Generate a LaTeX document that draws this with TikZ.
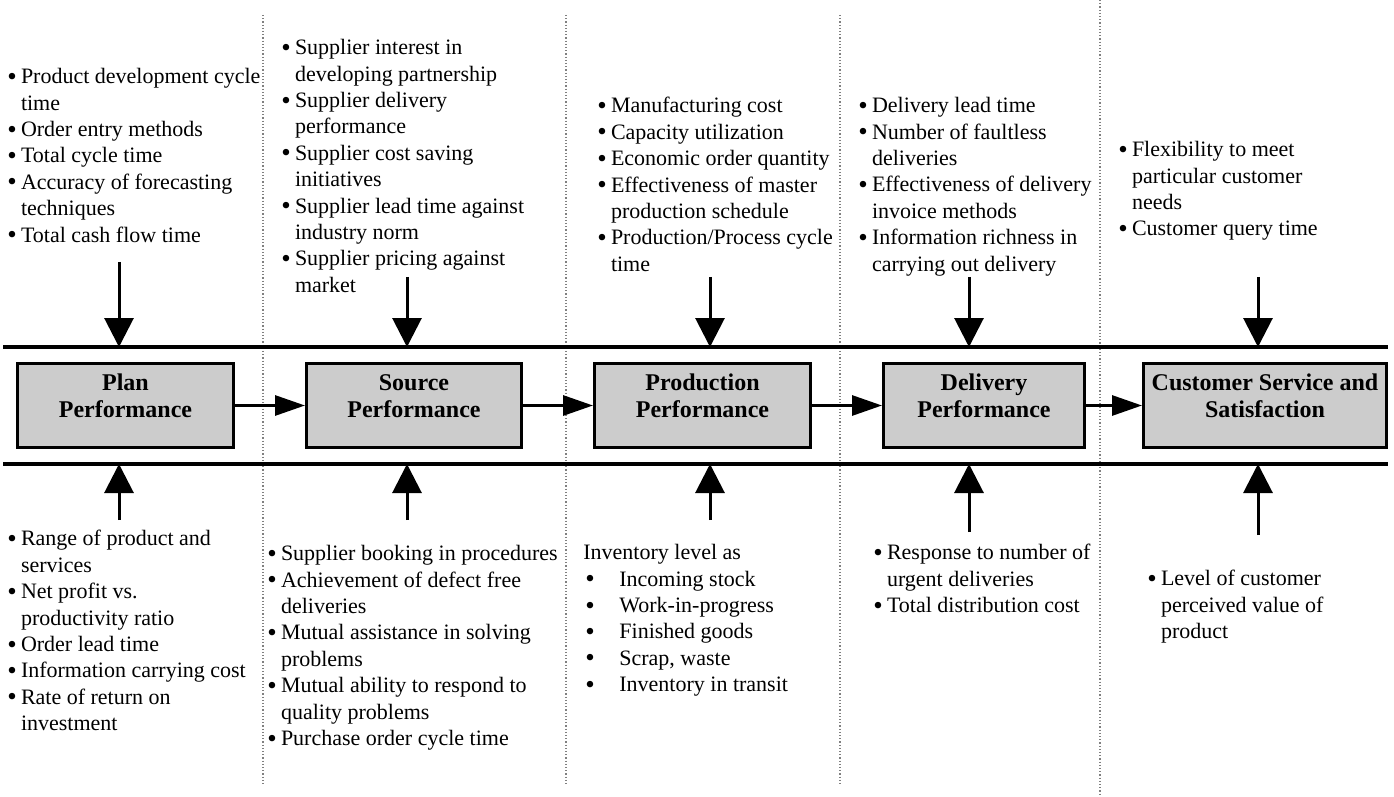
\documentclass[tikz,border=0pt]{standalone}
\usepackage{fontspec}
\setmainfont{Liberation Serif}
\usepackage{xcolor}
\usepackage{tikz}
\usetikzlibrary{positioning,arrows.meta}
\definecolor{boxgray}{RGB}{204,204,204}
\newcommand{\dotglyph}{\smash{\raisebox{-0.8pt}{\fontsize{13.5}{13.5}\selectfont\textbullet}}}
\newcommand{\blt}{\makebox[6.8pt][l]{\dotglyph}}
\newcommand{\hng}{\hspace*{6.8pt}}
\newcommand{\tbl}{\hspace*{1pt}\makebox[17pt][l]{\dotglyph}}

\begin{document}
\begin{tikzpicture}[x=0.5pt, y=-0.5pt,
  box/.style={draw, line width=1.7pt, fill=boxgray, minimum height=41.8pt, inner sep=0pt},
  boxtxt/.style={align=center, inner sep=0pt, font=\fontsize{12}{13.5}\selectfont\bfseries},
  lst/.style={anchor=north west, inner sep=0pt, align=left, font=\fontsize{11}{13.2}\selectfont},
  harr/.style={-{Triangle[length=15pt, width=10pt]}, line width=1.5pt},
  varr/.style={-{Triangle[length=14.5pt, width=14.5pt]}, line width=1.5pt},
  bar/.style={line width=2pt},
  sep/.style={densely dotted, gray, line width=0.6pt}]
\useasboundingbox (0,0) rectangle (1394,797);
\draw[sep] (263,15) -- (263,785); \draw[sep] (566,15) -- (566,785);
\draw[sep] (840,15) -- (840,785); \draw[sep] (1100,0) -- (1100,797);
\coordinate (tl) at (3,347); \coordinate (tr) at (1388,347);
\coordinate (bl) at (3,464); \coordinate (br) at (1388,464);
\draw[bar] (tl) -- (tr); \draw[bar] (bl) -- (br);
\node[box, minimum width=107.8pt] (plan) at (125.5,405.5) {};
\node[box, minimum width=107.3pt] (src) at (414,405.5) {};
\node[box, minimum width=107.8pt] (prod) at (702.5,405.5) {};
\node[box, minimum width=100.3pt] (del) at (984,405.5) {};
\node[box, minimum width=121.3pt] (cust) at (1265,405.5) {};
\node[boxtxt] (plant) at ([yshift=4.75pt]plan.center) {Plan\\Performance};
\node[boxtxt] (srct) at ([yshift=4.75pt]src.center) {Source\\Performance};
\node[boxtxt] (prodt) at ([yshift=4.75pt]prod.center) {Production\\Performance};
\node[boxtxt] (delt) at ([yshift=4.75pt]del.center) {Delivery\\Performance};
\node[boxtxt] (custt) at ([yshift=4.75pt]cust.center) {Customer Service and\\Satisfaction};
\draw[harr] (plan.east) -- (src.west); \draw[harr] (src.east) -- (prod.west);
\draw[harr] (prod.east) -- (del.west); \draw[harr] (del.east) -- (cust.west);
\node[lst] (plantop) at (7,68) {\blt Product development cycle\\\hng time\\\blt Order entry methods\\\blt Total cycle time\\\blt Accuracy of forecasting\\\hng techniques\\\blt Total cash flow time};
\node[lst] (srctop) at (281,39) {\blt Supplier interest in\\\hng developing partnership\\\blt Supplier delivery\\\hng performance\\\blt Supplier cost saving\\\hng initiatives\\\blt Supplier lead time against\\\hng industry norm\\\blt Supplier pricing against\\\hng market};
\node[lst] (prodtop) at (597,97) {\blt Manufacturing cost\\\blt Capacity utilization\\\blt Economic order quantity\\\blt Effectiveness of master\\\hng production schedule\\\blt Production/Process cycle\\\hng time};
\node[lst] (deltop) at (858,97) {\blt Delivery lead time\\\blt Number of faultless\\\hng deliveries\\\blt Effectiveness of delivery\\\hng invoice methods\\\blt Information richness in\\\hng carrying out delivery};
\node[lst] (custtop) at (1118,141) {\blt Flexibility to meet\\\hng particular customer\\\hng needs\\\blt Customer query time};
\node[lst] (planbot) at (7,530) {\blt Range of product and\\\hng services\\\blt Net profit vs.\\\hng productivity ratio\\\blt Order lead time\\\blt Information carrying cost\\\blt Rate of return on\\\hng investment};
\node[lst] (srcbot) at (267,545) {\blt Supplier booking in procedures\\\blt Achievement of defect free\\\hng deliveries\\\blt Mutual assistance in solving\\\hng problems\\\blt Mutual ability to respond to\\\hng quality problems\\\blt Purchase order cycle time};
\node[lst] (prodbot) at (583,544) {Inventory level as\\\tbl Incoming stock\\\tbl Work-in-progress\\\tbl Finished goods\\\tbl Scrap, waste\\\tbl Inventory in transit};
\node[lst] (delbot) at (873,544) {\blt Response to number of\\\hng urgent deliveries\\\blt Total distribution cost};
\node[lst] (custbot) at (1147,570) {\blt Level of customer\\\hng perceived value of\\\hng product};
\coordinate (pa) at (119,262); \coordinate (sa) at (407,277); \coordinate (ra) at (710,277);
\coordinate (da) at (969,277); \coordinate (ca) at (1258,277);
\draw[varr] (pa) -- (pa |- tl); \draw[varr] (sa) -- (sa |- tl); \draw[varr] (ra) -- (ra |- tl);
\draw[varr] (da) -- (da |- tl); \draw[varr] (ca) -- (ca |- tl);
\coordinate (pb) at (119,520); \coordinate (sb) at (407,520); \coordinate (rb) at (710,520);
\coordinate (db) at (969,532); \coordinate (cb) at (1258,535);
\draw[varr] (pb) -- (pb |- bl); \draw[varr] (sb) -- (sb |- bl); \draw[varr] (rb) -- (rb |- bl);
\draw[varr] (db) -- (db |- bl); \draw[varr] (cb) -- (cb |- bl);
\end{tikzpicture}
\end{document}
